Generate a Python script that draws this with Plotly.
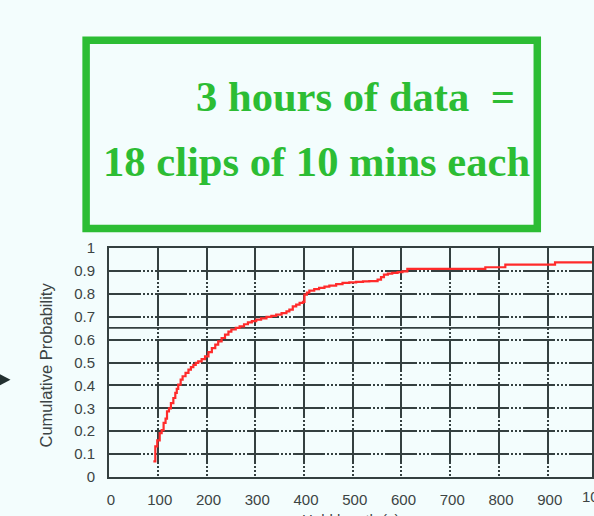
import plotly.graph_objects as go

# ---- data ----
hold_len = [91, 95, 99, 104, 108, 112, 116, 119, 123, 127, 132, 136, 139, 142, 147, 151,
            157, 163, 168, 173, 178, 183, 190, 197, 204, 211, 218, 224, 231, 238, 245, 251,
            260, 268, 277, 285, 293, 302, 312, 323, 333, 343, 354, 364, 370, 377, 384, 391,
            398, 401, 406, 411, 421, 431, 442, 452, 466, 479, 493, 507, 521, 534, 551, 558,
            564, 572, 581, 592, 602, 612, 765, 772, 813, 915, 1000]
cum_prob = [0.068, 0.134, 0.160, 0.192, 0.205, 0.236, 0.255, 0.287, 0.300, 0.323, 0.345, 0.367,
            0.385, 0.403, 0.425, 0.440, 0.455, 0.469, 0.480, 0.490, 0.498, 0.505, 0.515, 0.527,
            0.545, 0.563, 0.578, 0.592, 0.607, 0.622, 0.635, 0.644, 0.651, 0.658, 0.667, 0.675,
            0.681, 0.687, 0.693, 0.699, 0.704, 0.709, 0.716, 0.723, 0.731, 0.745, 0.753, 0.760,
            0.765, 0.796, 0.805, 0.814, 0.820, 0.826, 0.831, 0.836, 0.842, 0.848, 0.850, 0.852,
            0.854, 0.855, 0.862, 0.873, 0.884, 0.888, 0.891, 0.895, 0.898, 0.909, 0.909, 0.916,
            0.927, 0.937, 0.940]
x_ticks = [0, 100, 200, 300, 400, 500, 600, 700, 800, 900]
y_ticks = [0, 0.1, 0.2, 0.3, 0.4, 0.5, 0.6, 0.7, 0.8, 0.9, 1]
y_tick_text = ["0", "0.1", "0.2", "0.3", "0.4", "0.5", "0.6", "0.7", "0.8", "0.9", "1"]
x_title = "Hold length (s)"
y_title = "Cumulative Probability"
box_line1 = "3 hours of data\u00a0\u00a0="
box_line2 = "18 clips of 10 mins each"
extra_line_y = 0.651

# ---- layout geometry (pixels) ----
W, H = 594, 516
PL, PR = 108.5, 594.0      # plot area left/right px
PT, PB = 248.4, 477.3      # plot area top/bottom px


def px(x):
    return (x - PL) / (PR - PL)


def py(y):
    return (PB - y) / (PB - PT)


BG = "#f3fdfd"
GRID = "#344040"
GREEN = "#2cbd34"
DASH = "32px,2px,2px,2px,2px,2px,2px,2px"

fig = go.Figure()
fig.add_trace(go.Scatter(x=hold_len, y=cum_prob, mode="lines", line_shape="hv",
                         line=dict(color="#ff2b2b", width=2.2), hoverinfo="skip",
                         showlegend=False))

fig.update_layout(
    width=W, height=H,
    margin=dict(l=PL, r=W - PR, t=PT, b=H - PB, pad=0),
    paper_bgcolor=BG, plot_bgcolor=BG,
    font=dict(family="Liberation Sans, Arial, sans-serif", color="#3c4444", size=15),
    xaxis=dict(range=[0, (PR - PL) / 0.49], tickvals=x_ticks, showgrid=True,
               gridcolor=GRID, gridwidth=1.6, griddash=DASH, zeroline=False,
               showline=True, linecolor=GRID, linewidth=2, mirror=True,
               ticks="", ticklabelshift=2, ticklabelstandoff=8),
    yaxis=dict(range=[0, 1], tickvals=y_ticks, ticktext=y_tick_text, showgrid=True,
               gridcolor=GRID, gridwidth=1.6, griddash=DASH, zeroline=False,
               showline=True, linecolor=GRID, linewidth=2, mirror=True,
               ticks="", ticklabelstandoff=9),
)

shapes = [
    dict(type="line", xref="paper", yref="y", x0=0, x1=1, y0=extra_line_y, y1=extra_line_y,
         line=dict(color=GRID, width=1.6), layer="below"),
    dict(type="rect", xref="paper", yref="paper", x0=px(85.5), x1=px(539),
         y0=py(228.8), y1=py(40.8), line=dict(color=GREEN, width=7.5)),
    dict(type="path", xref="paper", yref="paper",
         path=f"M {px(-4)} {py(373)} L {px(9.5)} {py(380)} L {px(-4)} {py(387)} Z",
         fillcolor="#223030", line=dict(width=0)),
]
fig.update_layout(shapes=shapes)

annotations = [
    dict(text=f"<b>{box_line1}</b>", xref="paper", yref="paper", x=px(194), y=py(97),
         xanchor="left", yanchor="middle", showarrow=False,
         font=dict(family="Liberation Serif, Times New Roman, serif", size=42.6, color=GREEN)),
    dict(text=f"<b>{box_line2}</b>", xref="paper", yref="paper", x=px(100), y=py(162),
         xanchor="left", yanchor="middle", showarrow=False,
         font=dict(family="Liberation Serif, Times New Roman, serif", size=42.6, color=GREEN)),
    dict(text=y_title, xref="paper", yref="paper", x=px(45), y=py(365), textangle=-90,
         xanchor="center", yanchor="middle", showarrow=False, font=dict(size=16.5)),
    dict(text=x_title, xref="paper", yref="paper", x=px(352), y=py(509),
         xanchor="center", yanchor="top", showarrow=False, font=dict(size=15)),
    dict(text="1000", xref="paper", yref="paper", x=px(1000 * 0.49 + PL + 2), y=py(486),
         xanchor="center", yanchor="top", showarrow=False, font=dict(size=15)),
]
fig.update_layout(annotations=annotations)

fig.write_html("out.html")
